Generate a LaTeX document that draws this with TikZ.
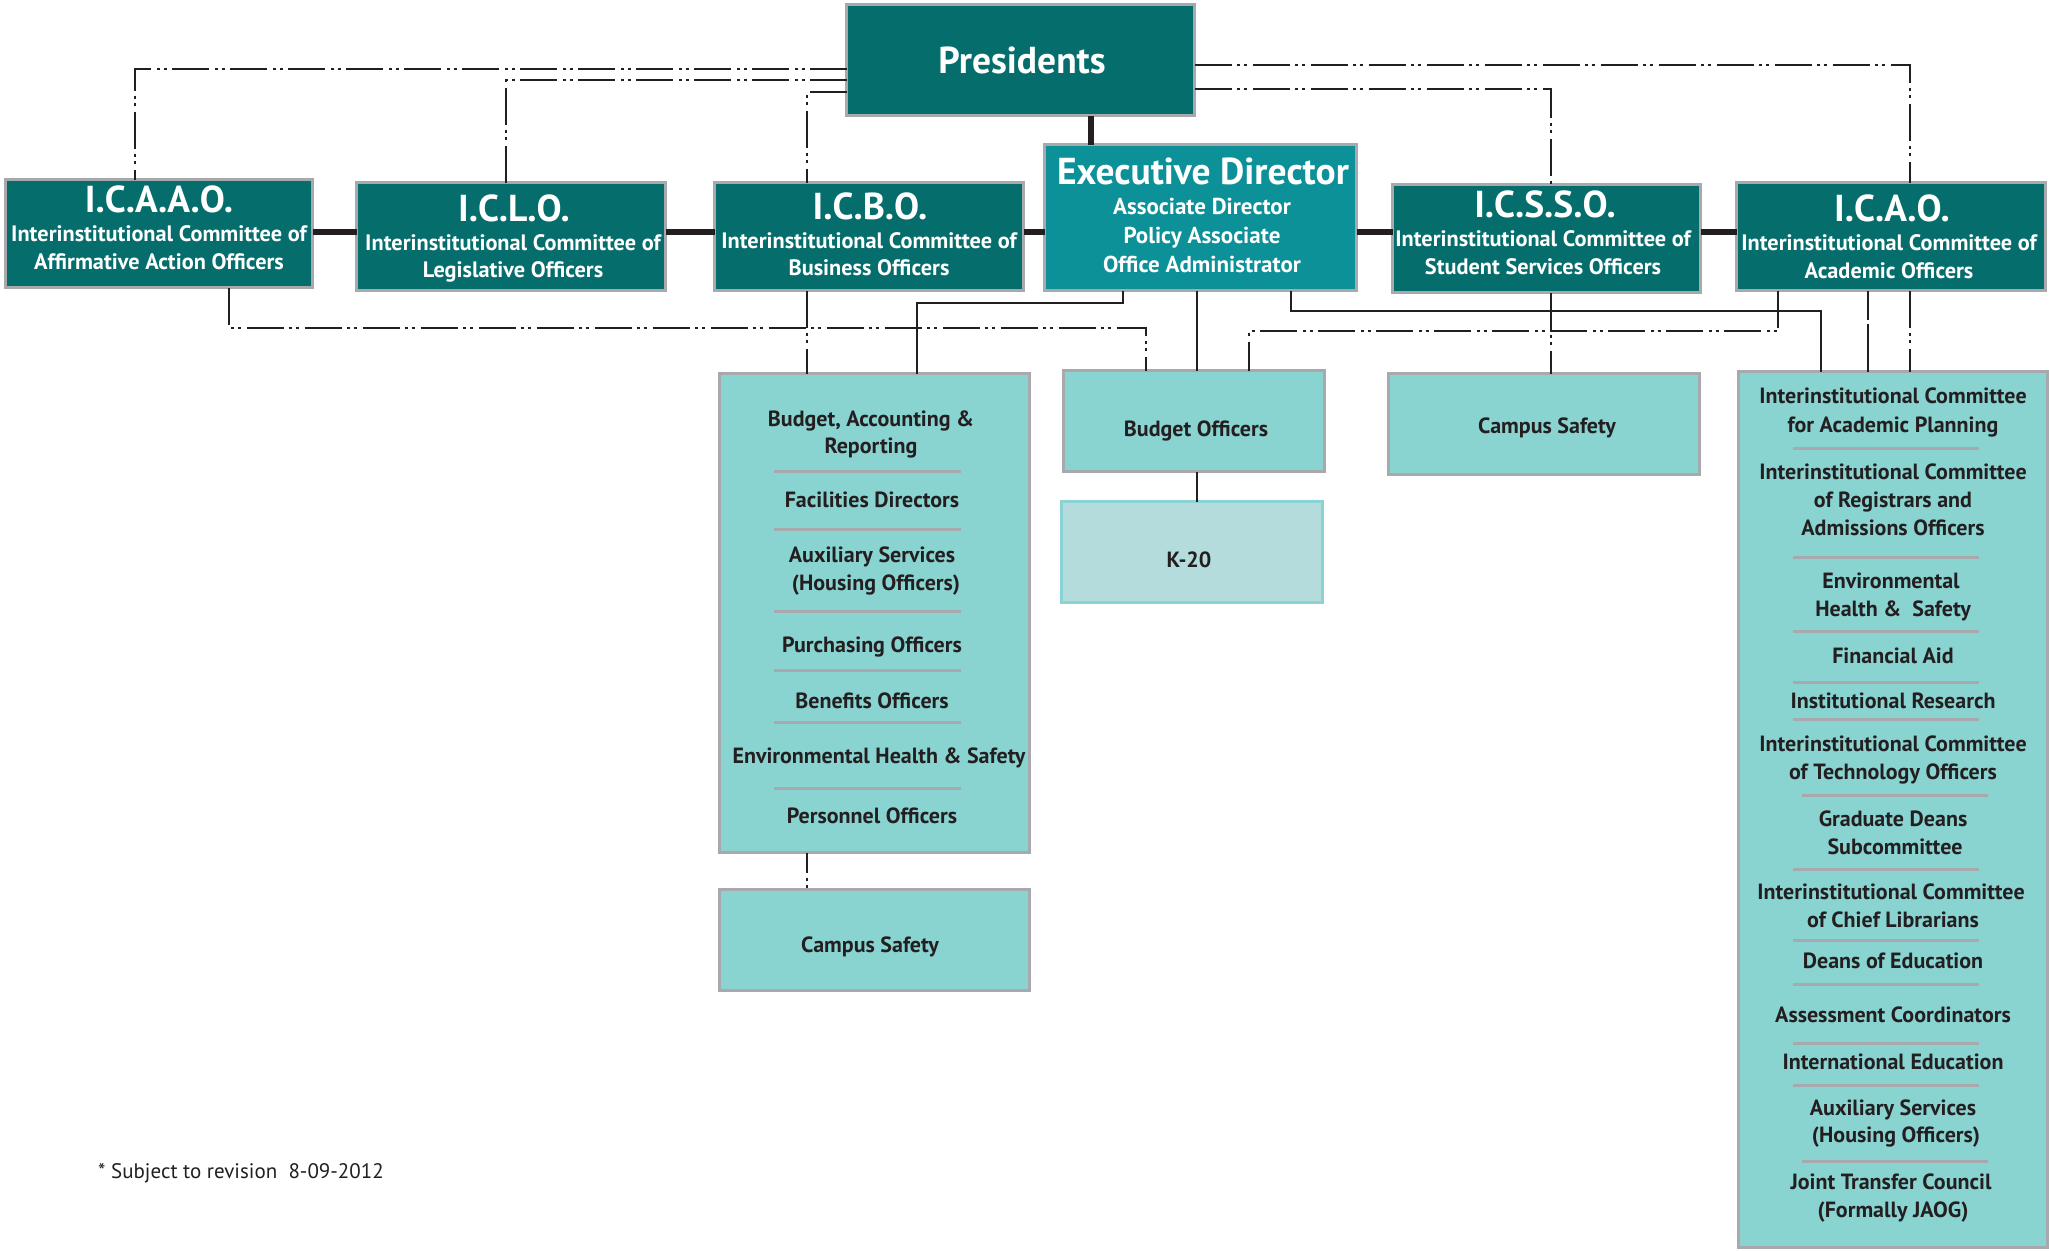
\documentclass[tikz,border=0pt]{standalone}
\usepackage{fontspec}
\setmainfont{PT Sans}
\definecolor{darkteal}{RGB}{5,110,109}
\definecolor{midteal}{RGB}{12,145,152}
\definecolor{lightteal}{RGB}{137,211,209}
\definecolor{kfill}{RGB}{181,220,221}
\definecolor{kborder}{RGB}{138,211,210}
\definecolor{boxgrey}{RGB}{167,169,172}
\definecolor{textdark}{RGB}{35,31,32}
\definecolor{linecol}{RGB}{35,31,32}
\newcommand\fsz[1]{\fontsize{#1}{#1}\selectfont}
\begin{document}
\begin{tikzpicture}[x=1pt,y=-1pt,
  box/.style={draw=boxgrey, line width=3pt, inner sep=0pt, outer sep=0pt},
  topbox/.style={box, fill=darkteal},
  execbox/.style={box, fill=midteal},
  subbox/.style={box, fill=lightteal},
  kbox/.style={draw=kborder, line width=3pt, fill=kfill, inner sep=0pt, outer sep=0pt},
  wt/.style={anchor=base, inner sep=0pt, text=white, font=\bfseries\fsz{22.3}},
  wte/.style={anchor=base, inner sep=0pt, text=white, font=\bfseries\fsz{23}},
  wtitle/.style={anchor=base, inner sep=0pt, text=white, font=\bfseries\fsz{37.5}},
  dk/.style={anchor=base, inner sep=0pt, text=textdark, font=\bfseries\fsz{22}},
  sepline/.style={draw=boxgrey, line width=3pt},
  conn/.style={draw=linecol, line width=2.5pt},
  thickconn/.style={draw=linecol, line width=6pt},
  dd/.style={draw=linecol, line width=2.5pt, dash pattern=on 37pt off 5pt on 3pt off 4pt on 3pt off 6pt},
  longdash/.style={draw=linecol, line width=2.5pt, dash pattern=on 29pt off 4pt on 60pt off 4pt}
]
\useasboundingbox[fill=white] (0,0) rectangle (2049,1251);

% ---------- boxes ----------
\node[topbox, minimum width=348pt, minimum height=111pt] (pres) at (1020.5,60) {};
\node[topbox, minimum width=307.5pt, minimum height=108pt] (icaao) at (158.75,233.5) {};
\node[topbox, minimum width=309pt, minimum height=108pt] (iclo) at (511,236.5) {};
\node[topbox, minimum width=309pt, minimum height=108pt] (icbo) at (869,236.5) {};
\node[execbox, minimum width=312pt, minimum height=146pt] (exec) at (1200.5,217.5) {};
\node[topbox, minimum width=308pt, minimum height=108pt] (icsso) at (1546.5,238.5) {};
\node[topbox, minimum width=309pt, minimum height=108pt] (icao) at (1891,236.5) {};

\node[subbox, minimum width=310pt, minimum height=479pt] (bizlist) at (874.5,613) {};
\node[subbox, minimum width=310pt, minimum height=101pt] (campusA) at (874.5,940) {};
\node[subbox, minimum width=261pt, minimum height=101pt] (budget) at (1194,421) {};
\node[kbox, minimum width=261pt, minimum height=101pt] (kt) at (1192,552) {};
\node[subbox, minimum width=311pt, minimum height=101pt] (campusB) at (1544,424) {};
\node[subbox, minimum width=309pt, minimum height=876pt] (acadlist) at (1893,809.5) {};

% ---------- connectors ----------
% thick horizontal chain
\draw[thickconn] (icaao.east |- 0,232) -- (iclo.west |- 0,232);
\draw[thickconn] (iclo.east |- 0,232) -- (icbo.west |- 0,232);
\draw[thickconn] (icbo.east |- 0,232) -- (exec.west |- 0,232);
\draw[thickconn] (exec.east |- 0,232) -- (icsso.west |- 0,232);
\draw[thickconn] (icsso.east |- 0,232) -- (icao.west |- 0,232);
\draw[thickconn] (pres.south -| 1091,0) -- (exec.north -| 1091,0);

% dash-dot from Presidents
\draw[dd] (pres.west |- 0,69) -| (icaao.north -| 135,0);
\draw[dd] (pres.west |- 0,80) -| (iclo.north -| 506,0);
\draw[dd] (pres.west |- 0,92) -| (icbo.north -| 807,0);
\draw[dd] (icbo.south -| 807,0) -- (bizlist.north -| 807,0);
\draw[dd, dash phase=17pt] (bizlist.south -| 807,0) -- (campusA.north -| 807,0);
\draw[dd] (pres.east |- 0,65) -| (icao.north -| 1910,0);
\draw[dd] (icao.south -| 1910,0) -- (acadlist.north -| 1910,0);
\draw[dd] (pres.east |- 0,89) -| (icsso.north -| 1551,0);
\draw[dd] (icsso.south -| 1551,0) -- (campusB.north -| 1551,0);

% lower connectors
\draw[dd] (icaao.south -| 229,0) -- (229,328) -| (budget.north -| 1146,0);
\draw[conn] (exec.south -| 1123,0) -- (1123,303) -| (bizlist.north -| 917,0);
\draw[conn] (exec.south -| 1197,0) -- (budget.north -| 1197,0);
\draw[conn] (budget.south -| 1197,0) -- (kt.north -| 1197,0);
\draw[conn] (exec.south -| 1291,0) -- (1291,311) -| (acadlist.north -| 1821,0);
\draw[dd] (icao.south -| 1778,0) -- (1778,331) -| (budget.north -| 1249,0);
\draw[longdash] (icao.south -| 1868,0) -- (acadlist.north -| 1868,0);

% ---------- top texts ----------
\node[wtitle] (presT) at (1022,73) {Presidents};

\node[wtitle] (icaaoT) at (159,212) {I.C.A.A.O.};
\node[wt] (icaaoA) at (159,241) {Interinstitutional Committee of};
\node[wt] (icaaoB) at (159,269) {Affirmative Action Officers};

\node[wtitle] (icloT) at (514,221) {I.C.L.O.};
\node[wt] (icloA) at (513,250) {Interinstitutional Committee of};
\node[wt] (icloB) at (513,277) {Legislative Officers};

\node[wtitle] (icboT) at (870,219) {I.C.B.O.};
\node[wt] (icboA) at (869,248) {Interinstitutional Committee of};
\node[wt] (icboB) at (869,275) {Business Officers};

\node[wtitle] (execT) at (1203,184) {Executive Director};
\node[wte] (execA) at (1202,214) {Associate Director};
\node[wte] (execB) at (1202,243) {Policy Associate};
\node[wte] (execC) at (1202,272) {Office Administrator};

\node[wtitle] (icssoT) at (1545,217) {I.C.S.S.O.};
\node[wt] (icssoA) at (1543,246) {Interinstitutional Committee of};
\node[wt] (icssoB) at (1543,274) {Student Services Officers};

\node[wtitle] (icaoT) at (1892,221) {I.C.A.O.};
\node[wt] (icaoA) at (1889,250) {Interinstitutional Committee of};
\node[wt] (icaoB) at (1889,278) {Academic Officers};

% ---------- business list ----------
\node[dk] (b1a) at (871,426) {Budget, Accounting \&};
\node[dk] (b1b) at (871,453) {Reporting};
\node[dk] (b2) at (872,507) {Facilities Directors};
\node[dk] (b3a) at (872,562) {Auxiliary Services};
\node[dk] (b3b) at (876,590) {(Housing Officers)};
\node[dk] (b4) at (872,652) {Purchasing Officers};
\node[dk] (b5) at (872,708) {Benefits Officers};
\node[dk] (b6) at (879,763) {Environmental Health \& Safety};
\node[dk] (b7) at (872,823) {Personnel Officers};
\foreach \yy in {471,529,611,670,722,788}
  \draw[sepline] (774,\yy) -- (961,\yy);

\node[dk] (campusAT) at (870,952) {Campus Safety};
\node[dk] (budgetT) at (1196,436) {Budget Officers};
\node[dk] (ktT) at (1189,567) {K-20};
\node[dk] (campusBT) at (1547,433) {Campus Safety};

% ---------- academic list ----------
\node[dk] (a1a) at (1893,403) {Interinstitutional Committee};
\node[dk] (a1b) at (1893,432) {for Academic Planning};
\node[dk] (a2a) at (1893,479) {Interinstitutional Committee};
\node[dk] (a2b) at (1893,507) {of Registrars and};
\node[dk] (a2c) at (1893,535) {Admissions Officers};
\node[dk] (a3a) at (1891,588) {Environmental};
\node[dk] (a3b) at (1893,616) {Health \&\ \ Safety};
\node[dk] (a4) at (1893,663) {Financial Aid};
\node[dk] (a5) at (1893,708) {Institutional Research};
\node[dk] (a6a) at (1893,751) {Interinstitutional Committee};
\node[dk] (a6b) at (1893,779) {of Technology Officers};
\node[dk] (a7a) at (1893,826) {Graduate Deans};
\node[dk] (a7b) at (1895,854) {Subcommittee};
\node[dk] (a8a) at (1891,899) {Interinstitutional Committee};
\node[dk] (a8b) at (1893,927) {of Chief Librarians};
\node[dk] (a9) at (1893,968) {Deans of Education};
\node[dk] (a10) at (1893,1022) {Assessment Coordinators};
\node[dk] (a11) at (1893,1069) {International Education};
\node[dk] (a12a) at (1893,1115) {Auxiliary Services};
\node[dk] (a12b) at (1896,1142) {(Housing Officers)};
\node[dk] (a13a) at (1891,1189) {Joint Transfer Council};
\node[dk] (a13b) at (1893,1217) {(Formally JAOG)};
\foreach \yy in {448,557,631,682,719,869,940,984,1043,1085}
  \draw[sepline] (1793,\yy) -- (1979,\yy);
\foreach \yy in {795,1161}
  \draw[sepline] (1802,\yy) -- (1988,\yy);

% ---------- footnote ----------
\node[anchor=base west, inner sep=0pt, text=textdark, font=\fsz{21}] (note) at (98,1178) {* Subject to revision~~8-09-2012};
\end{tikzpicture}
\end{document}
